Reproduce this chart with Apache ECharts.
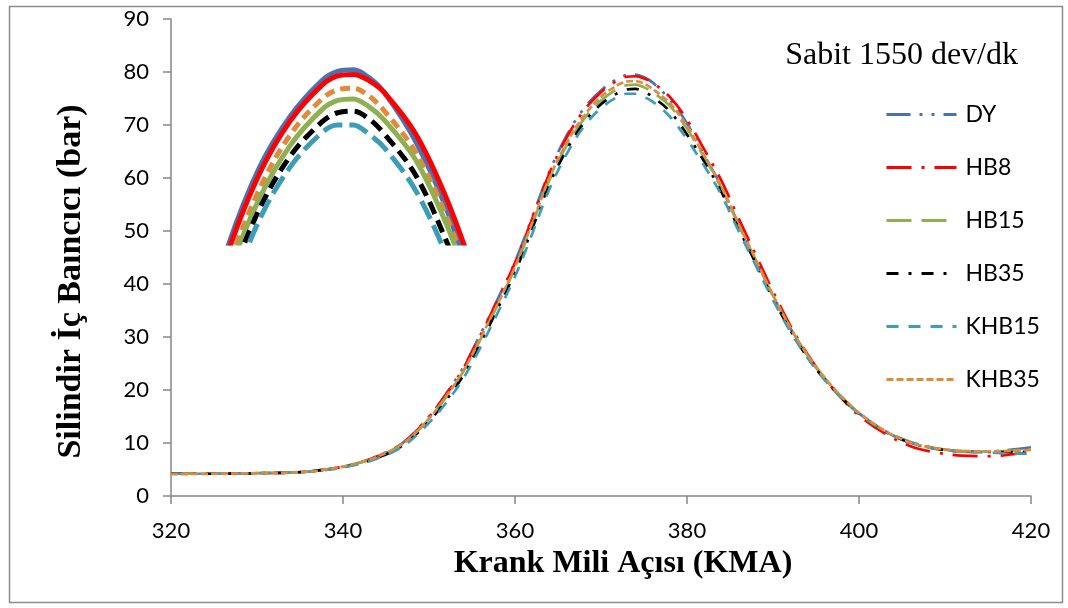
<!DOCTYPE html>
<html>
<head>
<meta charset="utf-8">
<script src="https://cdn.jsdelivr.net/npm/echarts@6/dist/echarts.min.js"></script>
<style>html,body{margin:0;padding:0;background:#fff;}#c{width:1068px;height:608px;}</style>
</head>
<body>
<div id="c"></div>
<script>
// Crank angle (KMA) sample positions
const angles = [320,325,330,335,338,341,344,347,350,352,354,356,358,360,362,364,366,368,370,372,373,374,375,376,378,380,382,384,386,388,390,392,394,396,398,400,403,406,409,412,415,418,420];
// Cylinder pressure (bar)
const DY    = [4.2,4.2,4.3,4.5,5.0,5.9,7.5,10.1,15.0,19.3,24.3,30.6,37.2,44.2,52.6,61.2,68.0,73.1,76.5,78.8,79.4,79.5,79.0,78.0,74.8,70.3,64.3,58.4,51.3,44.6,37.8,31.7,26.5,22.2,18.6,15.6,12.3,10.2,9.0,8.4,8.4,8.8,9.2];
const HB8   = [4.2,4.2,4.3,4.5,5.0,5.9,7.5,10.0,14.9,19.2,24.1,30.4,37.0,44.0,52.3,60.9,67.6,72.7,76.2,78.5,79.1,79.2,78.8,78.0,75.3,71.0,65.4,59.5,52.4,45.5,38.6,32.2,26.8,22.2,18.4,15.2,11.8,9.4,8.2,7.6,7.5,7.9,8.3];
const HB15  = [4.2,4.2,4.3,4.5,5.0,5.9,7.4,9.9,14.5,18.7,23.5,29.6,36.1,43.0,51.2,59.6,66.1,71.1,74.6,76.9,77.5,77.6,77.1,76.2,73.6,69.3,63.9,58.1,51.1,44.5,37.8,31.7,26.6,22.3,18.7,15.7,12.3,10.1,9.0,8.5,8.4,8.6,8.8];
const HB35  = [4.2,4.2,4.3,4.5,5.0,5.8,7.2,9.6,14.1,18.1,22.8,28.9,35.4,42.2,50.4,58.8,65.3,70.4,73.9,76.1,76.7,76.8,76.3,75.3,72.6,68.2,63.1,57.4,50.5,43.9,37.3,31.3,26.2,22.0,18.5,15.5,12.2,10.0,8.9,8.4,8.3,8.3,8.4];
const KHB15 = [4.2,4.2,4.3,4.5,4.9,5.7,7.1,9.4,13.8,17.6,22.2,28.1,34.6,41.4,49.5,57.9,64.5,69.7,73.2,75.4,75.9,75.9,75.3,74.4,71.6,67.3,62.3,56.8,50.0,43.5,37.0,31.1,26.1,21.9,18.4,15.5,12.2,10.0,8.9,8.4,8.2,8.0,8.0];
const KHB35 = [4.1,4.2,4.3,4.5,5.0,5.9,7.4,9.9,14.6,18.8,23.6,29.8,36.3,43.2,51.5,60.0,66.6,71.7,75.3,77.6,78.2,78.3,77.8,76.8,74.1,69.8,64.2,58.3,51.3,44.6,37.9,31.8,26.6,22.3,18.7,15.7,12.3,10.1,9.0,8.5,8.4,8.5,8.7];
const seriesNames = ['DY','HB8','HB15','HB35','KHB15','KHB35'];
const yTicks = [0,10,20,30,40,50,60,70,80,90];
const xTicks = [320,340,360,380,400,420];

const values = {DY, HB8, HB15, HB35, KHB15, KHB35};
const colors = {DY:'#4a72b0', HB8:'#ff0000', HB15:'#8fb050', HB35:'#000000', KHB15:'#3d9cb8', KHB35:'#e08a3c'};
const mainDash = {DY:[24,9,3,9,3,9], HB8:[25,10,3,10], HB15:[25,10], HB35:[12,10,3,10], KHB15:[12,10], KHB35:[7,3]};
const insetDash = {DY:'solid', HB8:'solid', HB15:'solid', HB35:[13,7], KHB15:[20,7], KHB35:[10,6]};
const insetOrder = ['DY','HB8','KHB35','HB15','HB35','KHB15'];

const pairs = n => angles.map((a,i)=>[a, values[n][i]]);

const series = [];
seriesNames.forEach(n => {
  series.push({
    name: n, type: 'line', xAxisIndex: 0, yAxisIndex: 0,
    data: pairs(n), smooth: 0.35, symbol: 'none',
    lineStyle: {color: colors[n], width: 2.7, type: mainDash[n], cap: 'butt'},
    itemStyle: {color: colors[n]}
  });
});
insetOrder.forEach(n => {
  series.push({
    name: n + ' (zoom)', type: 'line', xAxisIndex: 1, yAxisIndex: 1,
    data: pairs(n), smooth: 0.35, symbol: 'none', clip: true,
    lineStyle: {color: colors[n], width: 5, type: insetDash[n], cap: 'butt'},
    itemStyle: {color: colors[n]}
  });
});

const labelFont = 'Lato, "Open Sans", sans-serif';
const serif = '"Liberation Serif", "Times New Roman", serif';
const chart = echarts.init(document.getElementById('c'), null, {renderer: 'canvas'});
chart.setOption({
  animation: false,
  backgroundColor: '#ffffff',
  title: {
    text: 'Sabit 1550 dev/dk', right: 45, top: 35,
    textStyle: {fontFamily: serif, fontWeight: 'normal', fontSize: 32, color: '#000'}
  },
  legend: {
    data: seriesNames, orient: 'vertical', left: 880, top: 98,
    itemWidth: 70, itemHeight: 16, itemGap: 30,
    itemStyle: {opacity: 0},
    lineStyle: {width: 3},
    textStyle: {fontFamily: labelFont, fontSize: 23, color: '#000', padding: [0,0,0,4]}
  },
  grid: [
    {left: 171, right: 37, top: 19, bottom: 112, containLabel: false},
    {left: 228, top: 66, width: 238, height: 177, containLabel: false}
  ],
  xAxis: [{
    type: 'value', min: xTicks[0], max: xTicks[xTicks.length-1], interval: 20,
    name: 'Krank Mili Açısı (KMA)', nameLocation: 'middle', nameGap: 52,
    nameTextStyle: {fontFamily: serif, fontWeight: 'bold', fontSize: 32, color: '#000', padding: [0,0,0,44]},
    axisLine: {lineStyle: {color: '#878787', width: 1.5}},
    axisTick: {show: true, length: 8, lineStyle: {color: '#878787', width: 1.5}},
    axisLabel: {margin: 24, fontFamily: labelFont, fontSize: 22, color: '#000'},
    splitLine: {show: false}
  }, {
    type: 'value', gridIndex: 1, min: 366.0, max: 381.2, show: false
  }],
  yAxis: [{
    type: 'value', min: yTicks[0], max: yTicks[yTicks.length-1], interval: 10,
    name: 'Silindir İç Baıncıcı (bar)', nameLocation: 'middle', nameGap: 83,
    nameTextStyle: {fontFamily: serif, fontWeight: 'bold', fontSize: 34, color: '#000', padding: [0,48,0,0]},
    axisLine: {show: true, lineStyle: {color: '#878787', width: 1.5}},
    axisTick: {show: true, length: 8, lineStyle: {color: '#878787', width: 1.5}},
    axisLabel: {margin: 22, fontFamily: labelFont, fontSize: 22, color: '#000'},
    splitLine: {show: false}
  }, {
    type: 'value', gridIndex: 1, min: 68.2, max: 79.75, show: false
  }],
  graphic: [{
    type: 'rect', left: 7, top: 4, silent: true, z: -10,
    shape: {width: 1053, height: 596},
    style: {fill: 'none', stroke: '#8c8c8c', lineWidth: 1.5}
  }],
  series: series
});
</script>
</body>
</html>
